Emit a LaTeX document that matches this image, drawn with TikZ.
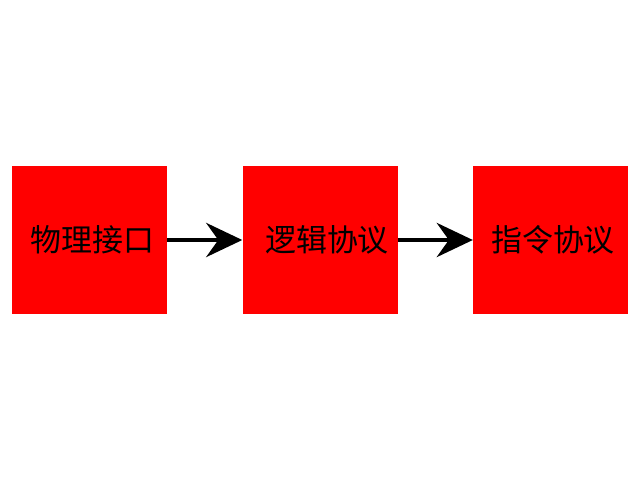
\documentclass[tikz,border=0pt]{standalone}
\usepackage{fontspec}
\newfontfamily\cjk{Noto Sans CJK SC}
\usetikzlibrary{positioning,arrows.meta}
\tikzset{
layer/.style={
	fill=red, minimum width=3.875cm, minimum height=3.7cm,
	inner sep=0pt, font=\cjk\fontsize{22}{26}\selectfont},
flow/.style={
	line width=3.5pt, -{Stealth[length=0.9cm,width=0.85cm,inset=0.3cm]}}
}

\begin{document}
\begin{tikzpicture}
	\useasboundingbox (0,0) rectangle (16,12);
	\node[layer] (phy) at (2.2375,6) {\hspace{0.15cm}物理接口};
	\node[layer, right=1.875cm of phy] (logic) {\hspace{0.35cm}逻辑协议};
	\node[layer, right=1.875cm of logic] (cmd) {\hspace{0.12cm}指令协议};
	\draw[flow] (phy) -- (logic);
	\draw[flow] (logic) -- (cmd);
\end{tikzpicture}
\end{document}
